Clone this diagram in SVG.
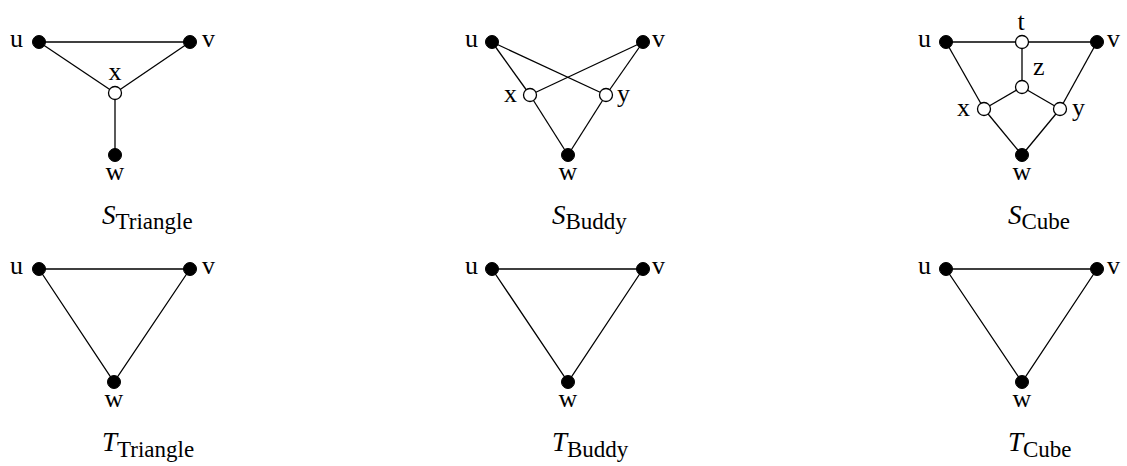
<svg xmlns="http://www.w3.org/2000/svg" width="1127" height="466" viewBox="0 0 1127 466">
<style>
.e{stroke:#000;stroke-width:1.3;fill:none}
.b{fill:#000;stroke:#000;stroke-width:1}
.o{fill:#fff;stroke:#000;stroke-width:1.3}
text{font-family:"Liberation Serif","Times New Roman",serif;font-size:26px;fill:#000}
.m{text-anchor:middle}
.r{text-anchor:end}
.it{font-style:italic;font-size:27px}
.sub{font-size:23px}
</style>
<rect width="1127" height="466" fill="#fff"/>
<g id="connectors">
<line class="e" x1="39" y1="42" x2="190" y2="42"/>
<line class="e" x1="39" y1="42" x2="115" y2="93"/>
<line class="e" x1="190" y1="42" x2="115" y2="93"/>
<line class="e" x1="115" y1="93" x2="115" y2="155"/>
<line class="e" x1="492" y1="42" x2="530" y2="95"/>
<line class="e" x1="492" y1="42" x2="606" y2="95"/>
<line class="e" x1="643" y1="42" x2="530" y2="95"/>
<line class="e" x1="643" y1="42" x2="606" y2="95"/>
<line class="e" x1="530" y1="95" x2="568" y2="155"/>
<line class="e" x1="606" y1="95" x2="568" y2="155"/>
<line class="e" x1="946" y1="42" x2="1097" y2="42"/>
<line class="e" x1="1022" y1="42" x2="1022" y2="87"/>
<line class="e" x1="1022" y1="87" x2="984" y2="109"/>
<line class="e" x1="1022" y1="87" x2="1060" y2="109"/>
<line class="e" x1="946" y1="42" x2="984" y2="109"/>
<line class="e" x1="1097" y1="42" x2="1060" y2="109"/>
<line class="e" x1="984" y1="109" x2="1022" y2="155"/>
<line class="e" x1="1060" y1="109" x2="1022" y2="155"/>
<polygon class="e" points="39,269 190,269 114,382"/>
<polygon class="e" points="492,269 643,269 568,382"/>
<polygon class="e" points="946,269 1097,269 1022,382"/>
</g>
<g id="S_Triangle">
<g id="st_u"><circle class="b" cx="39" cy="42" r="6.5"/><text class="r" x="23" y="47">u</text></g>
<g id="st_v"><circle class="b" cx="190" cy="42" r="6.5"/><text x="202" y="47">v</text></g>
<g id="st_x"><circle class="o" cx="115" cy="93" r="6.5"/><text class="m" x="115" y="80">x</text></g>
<g id="st_w"><circle class="b" cx="115" cy="155" r="6.5"/><text class="m" x="115" y="180">w</text></g>
<text x="102" y="224"><tspan class="it">S</tspan><tspan class="sub" dy="5">Triangle</tspan></text>
</g>
<g id="S_Buddy">
<g id="sb_u"><circle class="b" cx="492" cy="42" r="6.5"/><text class="r" x="478" y="47">u</text></g>
<g id="sb_v"><circle class="b" cx="643" cy="42" r="6.5"/><text x="652" y="47">v</text></g>
<g id="sb_x"><circle class="o" cx="530" cy="95" r="6.5"/><text class="r" x="517" y="102">x</text></g>
<g id="sb_y"><circle class="o" cx="606" cy="95" r="6.5"/><text x="617" y="102">y</text></g>
<g id="sb_w"><circle class="b" cx="568" cy="155" r="6.5"/><text class="m" x="568" y="180">w</text></g>
<text x="552" y="224"><tspan class="it">S</tspan><tspan class="sub" dy="5">Buddy</tspan></text>
</g>
<g id="S_Cube">
<g id="sc_u"><circle class="b" cx="946" cy="42" r="6.5"/><text class="r" x="931" y="47">u</text></g>
<g id="sc_v"><circle class="b" cx="1097" cy="42" r="6.5"/><text x="1107" y="47">v</text></g>
<g id="sc_t"><circle class="o" cx="1022" cy="42" r="6.5"/><text class="m" x="1021" y="30">t</text></g>
<g id="sc_z"><circle class="o" cx="1022" cy="87" r="6.5"/><text x="1033" y="75">z</text></g>
<g id="sc_x"><circle class="o" cx="984" cy="109" r="6.5"/><text class="r" x="970" y="116">x</text></g>
<g id="sc_y"><circle class="o" cx="1060" cy="109" r="6.5"/><text x="1072" y="116">y</text></g>
<g id="sc_w"><circle class="b" cx="1022" cy="155" r="6.5"/><text class="m" x="1022" y="180">w</text></g>
<text x="1008" y="224"><tspan class="it">S</tspan><tspan class="sub" dy="5">Cube</tspan></text>
</g>
<g id="T_Triangle">
<g id="tt_u"><circle class="b" cx="39" cy="269" r="6.5"/><text class="r" x="23" y="274">u</text></g>
<g id="tt_v"><circle class="b" cx="190" cy="269" r="6.5"/><text x="202" y="274">v</text></g>
<g id="tt_w"><circle class="b" cx="114" cy="382" r="6.5"/><text class="m" x="114" y="407">w</text></g>
<text x="102" y="451"><tspan class="it">T</tspan><tspan class="sub" dy="6">Triangle</tspan></text>
</g>
<g id="T_Buddy">
<g id="tb_u"><circle class="b" cx="492" cy="269" r="6.5"/><text class="r" x="478" y="274">u</text></g>
<g id="tb_v"><circle class="b" cx="643" cy="269" r="6.5"/><text x="652" y="274">v</text></g>
<g id="tb_w"><circle class="b" cx="568" cy="382" r="6.5"/><text class="m" x="568" y="407">w</text></g>
<text x="552" y="451"><tspan class="it">T</tspan><tspan class="sub" dy="6">Buddy</tspan></text>
</g>
<g id="T_Cube">
<g id="tc_u"><circle class="b" cx="946" cy="269" r="6.5"/><text class="r" x="931" y="274">u</text></g>
<g id="tc_v"><circle class="b" cx="1097" cy="269" r="6.5"/><text x="1107" y="274">v</text></g>
<g id="tc_w"><circle class="b" cx="1022" cy="382" r="6.5"/><text class="m" x="1022" y="407">w</text></g>
<text x="1008" y="451"><tspan class="it">T</tspan><tspan class="sub" dy="6">Cube</tspan></text>
</g>
</svg>
